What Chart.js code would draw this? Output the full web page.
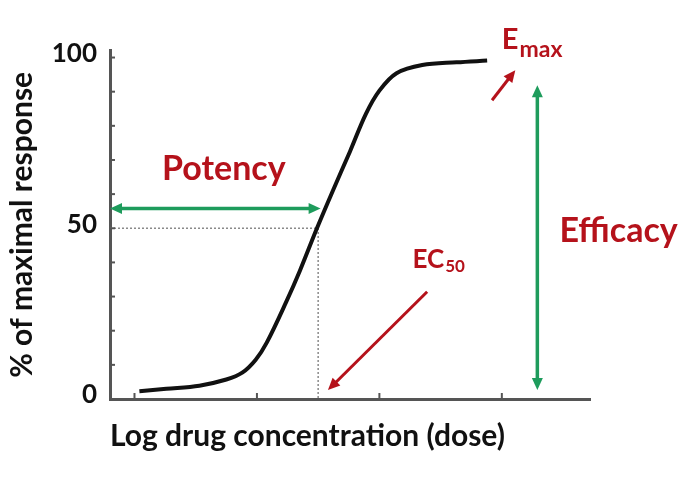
<!DOCTYPE html>
<html>
<head>
<meta charset="utf-8">
<script src="https://cdn.jsdelivr.net/npm/chart.js@4.4.1/dist/chart.umd.min.js"></script>
<style>
  html, body { margin: 0; padding: 0; background: #fff; }
</style>
</head>
<body>
<canvas id="myChart" width="698" height="482"></canvas>
<script>
// dose-response curve
var logDose  = [1.04, 1.26, 1.53, 1.75, 1.88, 1.99, 2.08, 2.24, 2.35, 2.49, 2.62, 2.76, 2.89, 3.00, 3.14, 3.35, 3.63, 3.88];
var response = [2.3, 3.0, 3.9, 5.7, 7.7, 11.5, 16.5, 28.5, 37.5, 50.0, 61.0, 72.5, 83.5, 90.3, 95.4, 97.8, 98.6, 99.1];

var yTicks = [0, 10, 20, 30, 40, 50, 60, 70, 80, 90, 100];
var yTickLabels = [0, 50, 100];
var xTicks = [1, 2, 3, 4];

// where the notes sit, in data units
var ec50 = [2.5, 50];
var potencyArrow  = [[0.8, 55.8], [2.52, 55.8]];
var efficacyArrow = [[4.29, 2.6], [4.29, 91.9]];
var ec50Arrow     = [[3.39, 31.4], [2.58, 2.6]];
var emaxArrow     = [[3.92, 87.5], [4.11, 96.3]];

var RED = "#b5121b";
var GREEN = "#1e9c5c";
var FONT = "Lato";

function arrowHead(ctx, x0, y0, x1, y1, len, half) {
  var a = Math.atan2(y1 - y0, x1 - x0);
  ctx.beginPath();
  ctx.moveTo(x1, y1);
  ctx.lineTo(x1 - len * Math.cos(a) + half * Math.sin(a), y1 - len * Math.sin(a) - half * Math.cos(a));
  ctx.lineTo(x1 - len * Math.cos(a) - half * Math.sin(a), y1 - len * Math.sin(a) + half * Math.cos(a));
  ctx.closePath();
  ctx.fill();
}

function arrow(ctx, xs, ys, pts, color, width, both) {
  var x0 = xs.getPixelForValue(pts[0][0]), y0 = ys.getPixelForValue(pts[0][1]);
  var x1 = xs.getPixelForValue(pts[1][0]), y1 = ys.getPixelForValue(pts[1][1]);
  var a = Math.atan2(y1 - y0, x1 - x0);
  ctx.save();
  ctx.strokeStyle = color;
  ctx.fillStyle = color;
  ctx.lineWidth = width;
  ctx.beginPath();
  ctx.moveTo(both ? x0 + 8 * Math.cos(a) : x0, both ? y0 + 8 * Math.sin(a) : y0);
  ctx.lineTo(x1 - 8 * Math.cos(a), y1 - 8 * Math.sin(a));
  ctx.stroke();
  arrowHead(ctx, x0, y0, x1, y1, 12, 5.5);
  if (both) arrowHead(ctx, x1, y1, x0, y0, 12, 5.5);
  ctx.restore();
}

function subText(ctx, x, y, main, sub, size, subSize, drop) {
  ctx.font = "bold " + size + "px " + FONT;
  ctx.fillText(main, x, y);
  var w = ctx.measureText(main).width;
  ctx.font = "bold " + subSize + "px " + FONT;
  ctx.fillText(sub, x + w + 1, y + drop);
}

var notes = {
  id: "notes",
  beforeDatasetsDraw: function (chart) {
    var ctx = chart.ctx, xs = chart.scales.x, ys = chart.scales.y;
    var px = xs.getPixelForValue(ec50[0]), py = ys.getPixelForValue(ec50[1]);
    ctx.save();
    ctx.strokeStyle = "#8a8a8a";
    ctx.lineWidth = 1.5;
    ctx.setLineDash([2, 2]);
    ctx.beginPath();
    ctx.moveTo(chart.chartArea.left, py);
    ctx.lineTo(px, py);
    ctx.lineTo(px, ys.getPixelForValue(0));
    ctx.stroke();
    ctx.restore();
  },
  afterDraw: function (chart) {
    var ctx = chart.ctx, xs = chart.scales.x, ys = chart.scales.y, area = chart.chartArea;
    ctx.save();
    // small inward tick marks
    ctx.strokeStyle = "#555";
    ctx.lineWidth = 2;
    ys.ticks.forEach(function (t) {
      var y = ys.getPixelForValue(t.value);
      ctx.beginPath(); ctx.moveTo(area.left, y); ctx.lineTo(area.left + 5, y); ctx.stroke();
    });
    xs.ticks.forEach(function (t) {
      var x = xs.getPixelForValue(t.value);
      ctx.beginPath(); ctx.moveTo(x, area.bottom); ctx.lineTo(x, area.bottom - 6); ctx.stroke();
    });
    ctx.restore();

    arrow(ctx, xs, ys, potencyArrow, GREEN, 3.5, true);
    arrow(ctx, xs, ys, efficacyArrow, GREEN, 3.5, true);
    arrow(ctx, xs, ys, ec50Arrow, RED, 3, false);
    arrow(ctx, xs, ys, emaxArrow, RED, 3, false);

    ctx.save();
    ctx.fillStyle = RED;
    ctx.textBaseline = "alphabetic";
    ctx.textAlign = "center";
    ctx.font = "bold 34px " + FONT;
    ctx.fillText("Potency", xs.getPixelForValue(1.73), ys.getPixelForValue(64.1));
    ctx.textAlign = "left";
    ctx.font = "bold 34px " + FONT;
    ctx.fillText("Efficacy", xs.getPixelForValue(4.47), ys.getPixelForValue(46));
    subText(ctx, xs.getPixelForValue(3.27), ys.getPixelForValue(38.4), "EC", "50", 26, 17, 4);
    subText(ctx, xs.getPixelForValue(4.0), ys.getPixelForValue(102.5), "E", "max", 29, 23, 8);
    ctx.restore();
  }
};

const myChart = new Chart("myChart", {
  type: "line",
  data: {
    datasets: [{
      data: logDose.map(function (x, i) { return { x: x, y: response[i] }; }),
      borderColor: "#111",
      borderWidth: 4,
      pointRadius: 0,
      fill: false,
      tension: 0.35
    }]
  },
  options: {
    responsive: false,
    animation: false,
    layout: { padding: { top: 50.7, right: 108, bottom: 0, left: 0 } },
    plugins: { legend: { display: false }, tooltip: { enabled: false } },
    scales: {
      x: {
        type: "linear",
        min: 0.8,
        max: 4.72,
        afterBuildTicks: function (s) { s.ticks = xTicks.map(function (v) { return { value: v }; }); },
        afterFit: function (s) { s.height = 83; },
        grid: { display: false, drawTicks: false },
        border: { display: true, color: "#555", width: 3 },
        ticks: { display: false },
        title: {
          display: true,
          text: "Log drug concentration (dose)",
          align: "start",
          color: "#111",
          font: { family: FONT, size: 30, weight: "bold" },
          padding: { top: 0, bottom: 28 }
        }
      },
      y: {
        min: 0,
        max: 102,
        afterBuildTicks: function (s) { s.ticks = yTicks.map(function (v) { return { value: v }; }); },
        afterFit: function (s) { s.width = 110; },
        grid: { display: false, drawTicks: false },
        border: { display: true, color: "#555", width: 3 },
        ticks: {
          padding: 13,
          labelOffset: -4,
          color: "#111",
          font: { family: FONT, size: 26, weight: "bold" },
          callback: function (v) { return yTickLabels.indexOf(v) >= 0 ? String(v) : ""; }
        },
        title: {
          display: true,
          text: "% of maximal response",
          color: "#111",
          font: { family: FONT, size: 30, weight: "bold" },
          padding: { top: 4, bottom: 0 }
        }
      }
    }
  },
  plugins: [notes]
});
</script>
</body>
</html>
